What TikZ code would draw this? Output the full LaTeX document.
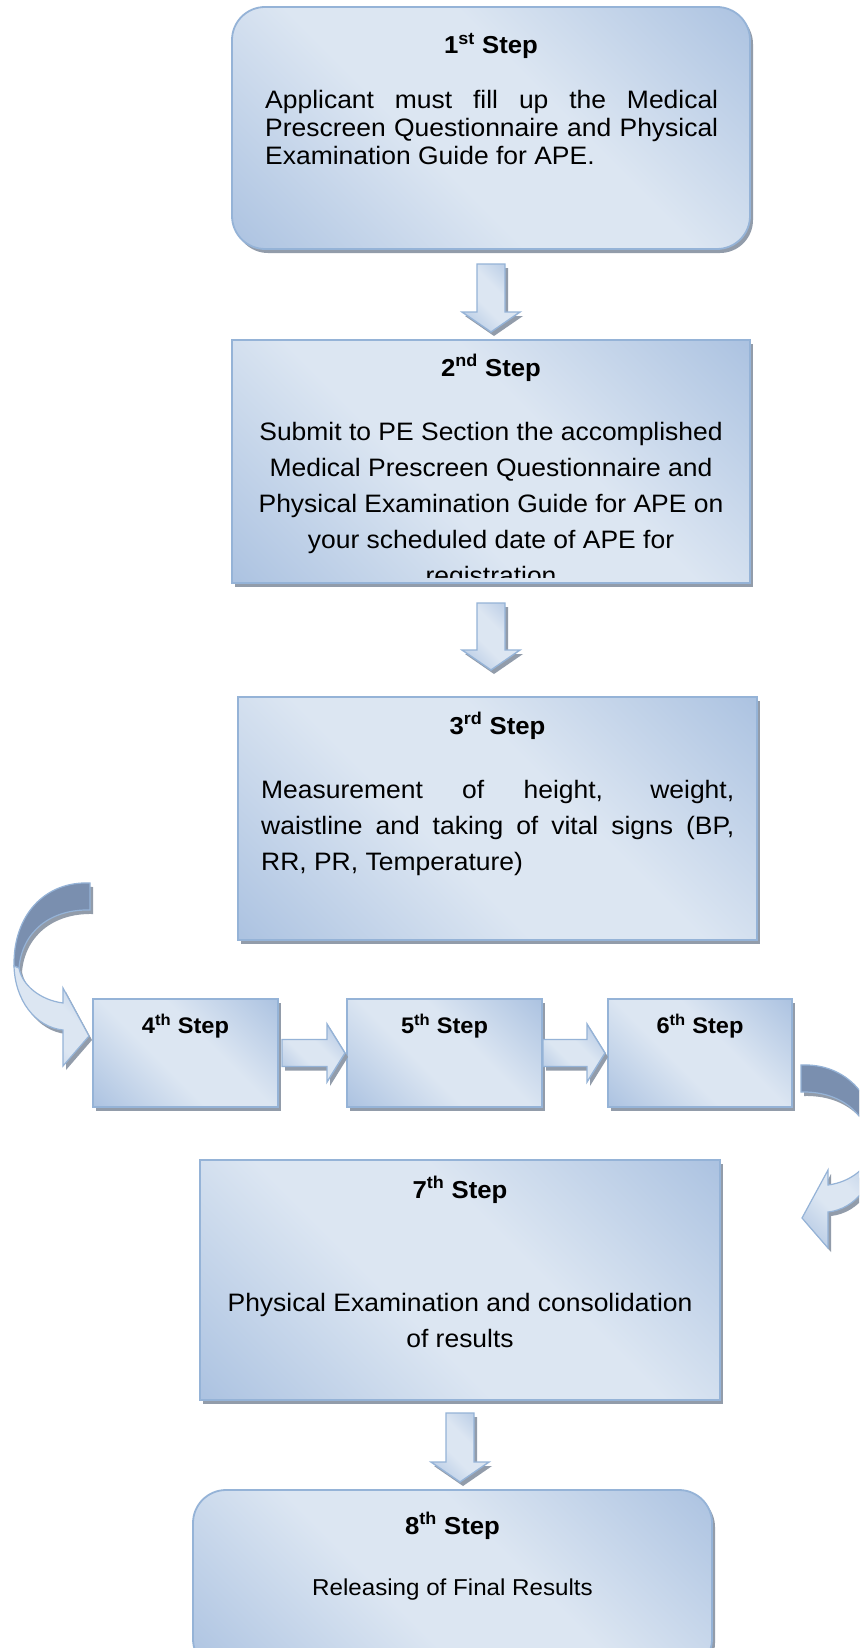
\documentclass[tikz,border=0pt]{standalone}
\usepackage{fontspec}
\setmainfont{Liberation Sans}[FakeStretch=1.05]
\usetikzlibrary{calc,shadows}

\definecolor{boxline}{RGB}{149,179,215}
\definecolor{boxdark}{RGB}{143,173,214}
\definecolor{boxmid}{RGB}{178,199,227}
\definecolor{boxlight}{RGB}{220,230,242}
\definecolor{shadowgray}{RGB}{146,156,170}
\definecolor{backcol}{RGB}{122,143,175}

% diagonal light band between two blue corners
\pgfdeclarehorizontalshading{stepshade}{100bp}{color(0bp)=(boxdark); color(18bp)=(boxmid); color(42bp)=(boxlight); color(58bp)=(boxlight); color(82bp)=(boxmid); color(100bp)=(boxdark)}

\tikzset{
  boxshadow/.style={drop shadow={shadow xshift=3pt, shadow yshift=-4pt, fill=shadowgray, opacity=1}},
  stepbox/.style={draw=boxline, line width=1.8pt, shading=stepshade, shading angle=45,
    inner sep=0pt, outer sep=0pt, boxshadow},
  roundbox/.style={stepbox, rounded corners=33pt},
  blockarrow/.style={draw=boxline, line width=1.4pt, shade, shading=stepshade, shading angle=45,
    line join=miter, boxshadow},
  backface/.style={draw=boxline, line width=1.2pt, fill=backcol},
  frontface/.style={draw=boxline, line width=1.2pt, shade, shading=stepshade, shading angle=45},
  titletxt/.style={anchor=base, inner sep=0pt, font=\fontsize{24.5}{29}\selectfont\bfseries},
  rowtitle/.style={titletxt, font=\fontsize{22.5}{27}\selectfont\bfseries},
  bodytxt/.style={anchor=base, inner sep=0pt, font=\fontsize{25.2}{30}\selectfont},
  bodyleft/.style={bodytxt, anchor=base west},
}

% one justified line of a given width
\newcommand\jline[2]{\makebox[#1][s]{#2}}

% downward block arrow from #1 (top centre) to the level of #2 (tip)
\newcommand\downblock[2]{%
  \path[blockarrow] let \p1=(#1), \p2=(#2) in
    (\x1-14pt,\y1) -- (\x1+14pt,\y1) -- (\x1+14pt,\y2+20pt) -- (\x1+29pt,\y2+20pt)
    -- (\x1,\y2) -- (\x1-29pt,\y2+20pt) -- (\x1-14pt,\y2+20pt) -- cycle;}

% rightward block arrow from #1 (left centre) to #2 (tip)
\newcommand\rightblock[2]{%
  \path[blockarrow] let \p1=(#1), \p2=(#2) in
    (\x1,\y1+13.5pt) -- (\x2-18pt,\y1+13.5pt) -- (\x2-18pt,\y1+29pt) -- (\x2,\y1)
    -- (\x2-18pt,\y1-29pt) -- (\x2-18pt,\y1-13.5pt) -- (\x1,\y1-13.5pt) -- cycle;}

% curved ribbon arrow, tip at the local origin; #1 = shadow offset along local x
\newcommand\ribbonpaths[1]{%
  \begin{scope}[shift={(#1,4)}]
    \fill[shadowgray] (1,-153) .. controls (-44,-155) and (-76,-121) .. (-75,-70)
      -- (-70,-68) .. controls (-67,-104) and (-39,-127) .. (1,-126) -- cycle;
    \fill[shadowgray] (-75,-70) .. controls (-74,-36) and (-54,-9) .. (-26,-6)
      -- (-26,30) -- (0,0) -- (-26,-48) -- (-26,-33)
      .. controls (-49,-36) and (-67,-51) .. (-70,-68) -- cycle;
  \end{scope}
  \path[backface] (1,-153) .. controls (-44,-155) and (-76,-121) .. (-75,-70)
    -- (-70,-68) .. controls (-67,-104) and (-39,-127) .. (1,-126) -- cycle;
  \path[frontface] (-75,-70) .. controls (-74,-36) and (-54,-9) .. (-26,-6)
    -- (-26,30) -- (0,0) -- (-26,-48) -- (-26,-33)
    .. controls (-49,-36) and (-67,-51) .. (-70,-68) -- cycle;}

\begin{document}
\begin{tikzpicture}[x=1pt,y=-1pt]
\useasboundingbox (0,0) rectangle (859,1648);
\fill[white] (0,0) rectangle (859,1648);
\clip (0,0) rectangle (859,1648);

% ---- step 1
\node[roundbox, minimum width=518pt, minimum height=242pt] (b1) at (491,128) {};
\node[titletxt] (b1t) at (491,54) {1\textsuperscript{st} Step};
\node[bodyleft] (b1a) at (265,109) {\jline{453pt}{Applicant must fill up the Medical}};
\node[bodyleft] (b1b) at (265,137) {\jline{453pt}{Prescreen Questionnaire and Physical}};
\node[bodyleft] (b1c) at (265,165) {Examination Guide for APE.};

% ---- step 2
\node[stepbox, minimum width=518pt, minimum height=243pt] (b2) at (491,461.5) {};
\node[titletxt] (b2t) at (491,376) {2\textsuperscript{nd} Step};
\begin{scope}
  \clip (232,340) rectangle (750,577);
  \node[bodytxt] (b2a) at (491,440) {Submit to PE Section the accomplished};
  \node[bodytxt] (b2b) at (491,476) {Medical Prescreen Questionnaire and};
  \node[bodytxt] (b2c) at (491,512) {Physical Examination Guide for APE on};
  \node[bodytxt] (b2d) at (491,548) {your scheduled date of APE for};
  \node[bodytxt] (b2e) at (491,584) {registration};
\end{scope}

% ---- step 3
\node[stepbox, minimum width=519pt, minimum height=243pt] (b3) at (497.5,818.5) {};
\node[titletxt] (b3t) at (497.5,734) {3\textsuperscript{rd} Step};
\node[bodyleft] (b3a) at (261,798) {\jline{473pt}{Measurement of height, weight,}};
\node[bodyleft] (b3b) at (261,834) {\jline{473pt}{waistline and taking of vital signs (BP,}};
\node[bodyleft] (b3c) at (261,870) {RR, PR, Temperature)};

% ---- steps 4 to 6
\node[stepbox, minimum width=185pt, minimum height=108pt] (b4) at (185.5,1053) {};
\node[rowtitle] (b4t) at (185.5,1033) {4\textsuperscript{th} Step};
\node[stepbox, minimum width=195pt, minimum height=108pt] (b5) at (444.5,1053) {};
\node[rowtitle] (b5t) at (444.5,1033) {5\textsuperscript{th} Step};
\node[stepbox, minimum width=184pt, minimum height=108pt] (b6) at (700,1053) {};
\node[rowtitle] (b6t) at (700,1033) {6\textsuperscript{th} Step};

% ---- step 7
\node[stepbox, minimum width=520pt, minimum height=240pt] (b7) at (460,1280) {};
\node[titletxt] (b7t) at (460,1198) {7\textsuperscript{th} Step};
\node[bodytxt] (b7a) at (460,1311) {Physical Examination and consolidation};
\node[bodytxt] (b7b) at (460,1347) {of results};

% ---- step 8
\node[roundbox, minimum width=519pt, minimum height=182pt] (b8) at (452.5,1581) {};
\node[titletxt] (b8t) at (452.5,1534) {8\textsuperscript{th} Step};
\node[bodytxt, font=\fontsize{23}{27}\selectfont] (b8a) at (452.5,1595) {Releasing of Final Results};

% ---- block arrows between the steps
\coordinate (a1s) at ([yshift=-15pt]b1.south);
\coordinate (a1e) at ([yshift=8pt]b2.north);
\coordinate (a2s) at ([yshift=-20pt]b2.south);
\coordinate (a2e) at ([yshift=27pt]b3.north);
\coordinate (a3s) at ([yshift=-13pt]b7.south);
\coordinate (a3e) at ([yshift=8pt]b8.north);
\coordinate (h1s) at ([xshift=4pt]b4.east);
\coordinate (h1e) at ([xshift=-2pt]b5.west);
\coordinate (h2s) at ([xshift=1pt]b5.east);
\coordinate (h2e) at ([xshift=-3pt]b6.west);
\downblock{a1s}{a1e}
\downblock{a2s}{a2e}
\downblock{a3s}{a3e}
\rightblock{h1s}{h1e}
\rightblock{h2s}{h2e}

% ---- curved arrows into step 4 and out of step 6
\coordinate (lt) at ([shift={(-4,-17)}]b4.west);
\coordinate (rt) at ([shift={(10,165)}]b6.east);
\begin{scope}[shift={(lt)}]
  \ribbonpaths{3}
\end{scope}
\begin{scope}[shift={(rt)}, xscale=-1]
  \ribbonpaths{-3}
\end{scope}
\end{tikzpicture}
\end{document}
